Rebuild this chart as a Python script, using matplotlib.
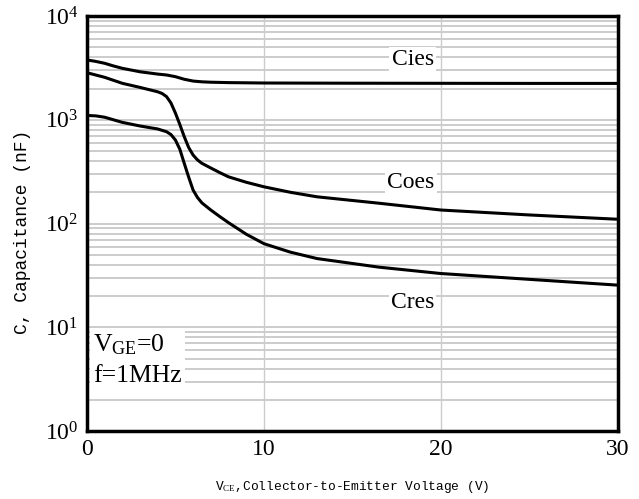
import numpy as np
import matplotlib
matplotlib.use("Agg")
import matplotlib.pyplot as plt
from matplotlib.ticker import FixedLocator, NullFormatter

plt.rcParams["mathtext.fontset"] = "custom"
plt.rcParams["mathtext.rm"] = "Liberation Serif"
plt.rcParams["mathtext.it"] = "Liberation Serif:italic"

# curves (V_CE in volts, C in nF)
v_cies = [0, 0.5, 1, 1.5, 2, 3, 4, 4.5, 5, 5.5, 6, 6.5, 7, 8, 10, 15, 20, 25, 30]
c_cies = [3770, 3650, 3500, 3300, 3130, 2900, 2755, 2700, 2600, 2455, 2360, 2320, 2300, 2280, 2260, 2250, 2245, 2240, 2240]

v_coes = [0, 1, 2, 3, 4, 4.25, 4.5, 4.75, 5, 5.25, 5.5, 5.75, 6, 6.25, 6.5, 7, 7.5, 8, 9, 10, 11.5, 13, 16.5, 20, 25, 30]
c_coes = [2840, 2565, 2245, 2050, 1860, 1790, 1670, 1450, 1160, 900, 687, 540, 457, 410, 380, 343, 310, 282, 250, 226, 200, 181, 157, 135, 121, 110]

v_cres = [0, 0.5, 1, 2, 3, 4, 4.5, 4.75, 5, 5.25, 5.5, 5.75, 6, 6.25, 6.5, 7, 7.5, 8, 9, 10, 11.5, 13, 16.5, 20, 25, 30]
c_cres = [1100, 1090, 1058, 944, 871, 815, 767, 720, 638, 520, 380, 280, 210, 178, 158, 135, 117, 102, 79, 64, 53, 46, 38, 33, 29, 25.5]

curve_names = ["Cies", "Coes", "Cres"]
label_pos = [(18.4, 3770), (18.3, 251), (18.4, 17.5)]

fig = plt.figure(figsize=(6.39, 4.99), dpi=100)
ax = fig.add_axes([0.136, 0.136, 0.831, 0.832])

ax.set_yscale("log")
ax.set_xlim(0, 30)
ax.set_ylim(1, 1e4)

# grid: minor horizontal lines every decade, vertical at 10 and 20
minor = [m * 10 ** d for d in range(0, 4) for m in range(2, 10)]
ax.yaxis.set_minor_locator(FixedLocator(minor))
ax.yaxis.set_minor_formatter(NullFormatter())
ax.grid(True, which="minor", axis="y", color="#cccccc", lw=1.4)
ax.grid(True, which="major", axis="y", color="#cccccc", lw=1.4)
ax.set_xticks([0, 10, 20, 30])
ax.grid(True, which="major", axis="x", color="#cccccc", lw=1.0)
ax.set_axisbelow(True)

for v, c in [(v_cies, c_cies), (v_coes, c_coes), (v_cres, c_cres)]:
    ax.plot(v, c, color="black", lw=2.2, solid_capstyle="round", solid_joinstyle="round")

for name, (x, y) in zip(curve_names, label_pos):
    ax.text(x, y, name, fontsize=17, family="Liberation Serif", ha="center", va="center",
            bbox=dict(facecolor="white", edgecolor="none", pad=1.5))

ax.text(0.012, 0.238, "V$_{\\rm GE}$=0\nf=1MHz", transform=ax.transAxes, fontsize=18.5,
        family="Liberation Serif", va="top", ha="left", linespacing=1.45,
        bbox=dict(facecolor="white", edgecolor="none", pad=2))

ax.set_yticks([1, 10, 100, 1000, 10000])
ax.set_yticklabels(["$10^{0}$", "$10^{1}$", "$10^{2}$", "$10^{3}$", "$10^{4}$"])
ax.tick_params(which="both", length=0, labelsize=17)
ax.tick_params(axis="x", pad=6)
ax.tick_params(axis="y", pad=6)
for lab in ax.get_xticklabels() + ax.get_yticklabels():
    lab.set_family("Liberation Serif")

for s in ax.spines.values():
    s.set_linewidth(2.5)

ax.set_xlabel("V$_{\\rm CE}$,Collector-to-Emitter Voltage (V)", family="Liberation Mono",
              fontsize=9.3, labelpad=13)
ax.set_ylabel("C, Capacitance (nF)", family="Liberation Mono", fontsize=13, labelpad=10)
ax.yaxis.set_label_coords(-0.105, 0.48)

fig.savefig("out.png", dpi=100)
